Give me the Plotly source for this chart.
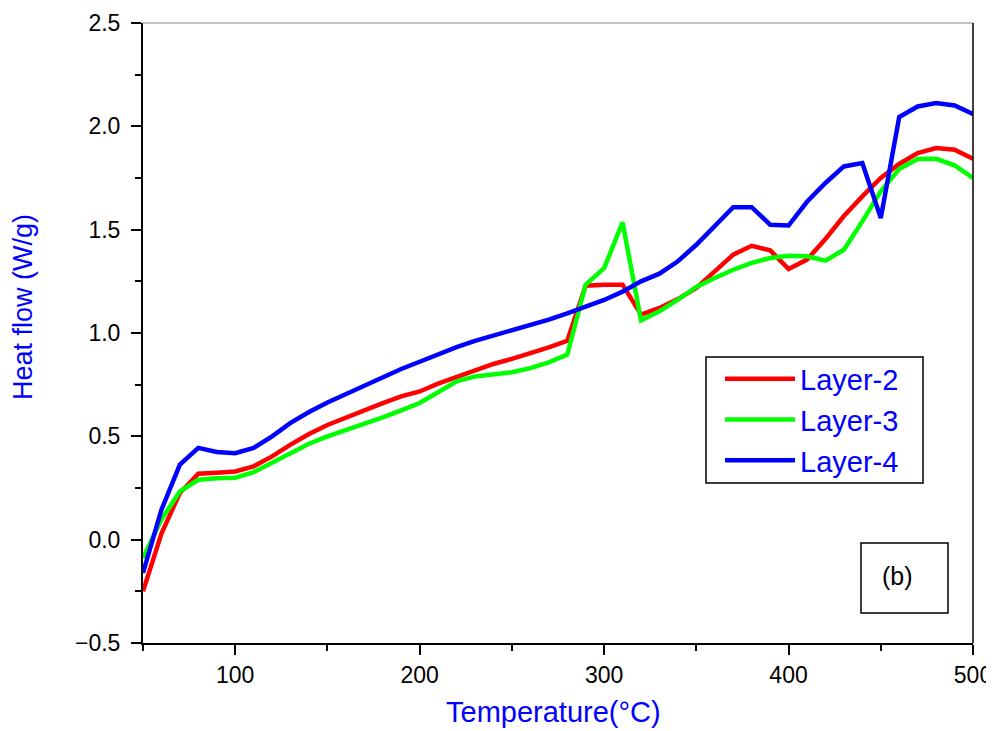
import plotly.graph_objects as go

temperature = list(range(50, 501, 10))

layer2 = [-0.25, 0.03, 0.226, 0.319, 0.324, 0.33, 0.355, 0.403, 0.46, 0.511,
          0.555, 0.592, 0.629, 0.661, 0.693, 0.717, 0.755, 0.787, 0.82, 0.85,
          0.875, 0.90, 0.93, 0.962, 1.229, 1.234, 1.234, 1.089, 1.121, 1.164,
          1.218, 1.298, 1.379, 1.422, 1.40, 1.31, 1.355, 1.455, 1.566, 1.661,
          1.75, 1.818, 1.871, 1.895, 1.887, 1.843]

layer3 = [-0.089, 0.097, 0.234, 0.29, 0.297, 0.30, 0.327, 0.371, 0.419, 0.464,
          0.50, 0.529, 0.56, 0.592, 0.626, 0.661, 0.713, 0.766, 0.79, 0.80,
          0.81, 0.83, 0.858, 0.895, 1.234, 1.314, 1.535, 1.061, 1.105, 1.161,
          1.223, 1.266, 1.306, 1.339, 1.363, 1.374, 1.371, 1.35, 1.403, 1.54,
          1.685, 1.793, 1.842, 1.843, 1.811, 1.75]

layer4 = [-0.161, 0.145, 0.363, 0.444, 0.424, 0.418, 0.444, 0.50, 0.565, 0.618,
          0.664, 0.705, 0.745, 0.787, 0.826, 0.861, 0.898, 0.932, 0.962, 0.987,
          1.01, 1.035, 1.065, 1.095, 1.126, 1.16, 1.20, 1.25, 1.287, 1.347,
          1.427, 1.519, 1.609, 1.609, 1.524, 1.52, 1.635, 1.726, 1.806, 1.822,
          1.556, 2.045, 2.096, 2.113, 2.101, 2.06]

series = [("Layer-2", layer2, "#ff0000"),
          ("Layer-3", layer3, "#00ff00"),
          ("Layer-4", layer4, "#0000ff")]

fig = go.Figure()
for name, ys, col in series:
    fig.add_trace(go.Scatter(x=temperature, y=ys, mode="lines", name=name,
                             line=dict(color=col, width=4.5)))

font_family = "Liberation Sans, Arial, sans-serif"

# page body has an 8px margin; figure sized so the plot lands where the reference has it
W, H = 986, 723
L, T, R, B = 135, 15, 21, 88
pw, ph = W - L - R, H - T - B


def px(xs):
    return (xs - 8 - L) / pw


def py(ys):
    return (H - B - (ys - 8)) / ph


fig.update_layout(
    width=W, height=H,
    margin=dict(l=L, r=R, t=T, b=B, autoexpand=False),
    paper_bgcolor="white", plot_bgcolor="white",
    font=dict(family=font_family, color="black", size=23),
    legend=dict(x=px(720), y=py(420), xanchor="left", yanchor="middle",
                borderwidth=0, bgcolor="rgba(0,0,0,0)",
                font=dict(size=29, color="#0000ff", family=font_family),
                itemwidth=70, tracegroupgap=0),
    xaxis=dict(range=[50, 500], tick0=0, dtick=100, ticks="outside",
               ticklen=10, tickwidth=2, tickcolor="black",
               showline=True, linecolor="black", linewidth=2,
               showgrid=False, zeroline=False, automargin=False,
               tickfont=dict(size=23, color="black"),
               minor=dict(dtick=50, tick0=0, ticks="outside", ticklen=6,
                          tickwidth=2, tickcolor="black", showgrid=False)),
    yaxis=dict(range=[-0.5, 2.5], tick0=0, dtick=0.5, tickformat=".1f",
               ticks="outside", ticklen=10, tickwidth=2, tickcolor="black",
               showline=True, linecolor="black", linewidth=2,
               showgrid=False, zeroline=False, automargin=False,
               ticklabelstandoff=6,
               tickfont=dict(size=23, color="black"),
               minor=dict(dtick=0.25, tick0=0, ticks="outside", ticklen=6,
                          tickwidth=2, tickcolor="black", showgrid=False)),
)

# axis titles
fig.add_annotation(xref="paper", yref="paper", x=px(553), y=py(712),
                   xanchor="center", yanchor="middle", showarrow=False,
                   text="Temperature(°C)",
                   font=dict(size=29, color="#0000ff", family=font_family))
fig.add_annotation(xref="paper", yref="paper", x=px(23), y=py(307),
                   xanchor="center", yanchor="middle", showarrow=False,
                   textangle=-90, text="Heat flow (W/g)",
                   font=dict(size=27, color="#0000ff", family=font_family))

# thin frame on top / right
fig.add_shape(type="line", xref="paper", yref="paper", x0=0, x1=1, y0=1, y1=1,
              line=dict(color="#888888", width=1))
fig.add_shape(type="line", xref="paper", yref="paper", x0=1, x1=1, y0=0, y1=1,
              line=dict(color="black", width=1.5))

# legend frame
fig.add_shape(type="rect", xref="paper", yref="paper", layer="above",
              x0=px(706), x1=px(923), y0=py(483), y1=py(357),
              line=dict(color="black", width=1.5), fillcolor="white")

# (b) label box
fig.add_shape(type="rect", xref="paper", yref="paper", layer="above",
              x0=px(861), x1=px(948), y0=py(613), y1=py(543),
              line=dict(color="black", width=1.5), fillcolor="white")
fig.add_annotation(xref="paper", yref="paper",
                   x=px(897), y=py(576), xanchor="center", yanchor="middle",
                   text="(b)", showarrow=False,
                   font=dict(size=25, color="black", family=font_family))

fig.write_html("out.html")
